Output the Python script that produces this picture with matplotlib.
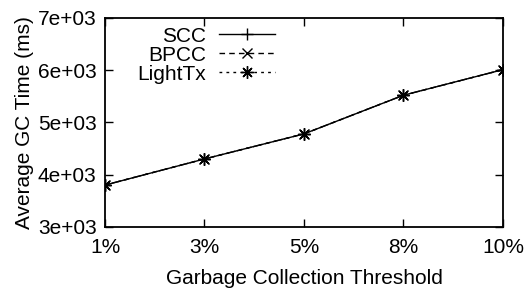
import numpy as np
import matplotlib.pyplot as plt

plt.rcParams['font.family'] = ['Liberation Sans', 'DejaVu Sans']

# donnees
thresholds = ["1%", "3%", "5%", "8%", "10%"]
scc = [3800, 4300, 4780, 5520, 6010]
bpcc = [3800, 4300, 4780, 5520, 6010]
lighttx = [3800, 4300, 4780, 5520, 6010]

x = np.arange(len(thresholds))

fig, ax = plt.subplots(figsize=(5.25, 2.89), dpi=100)
fig.subplots_adjust(left=0.2, right=0.958, top=0.938, bottom=0.215)

ax.plot(x, scc, color="black", lw=1, ls="-", marker="+", ms=9, mew=1, label="SCC")
ax.plot(x, bpcc, color="black", lw=1, ls=(0, (4, 3)), marker="x", ms=7, mew=1, label="BPCC")
ax.plot(x, lighttx, color="black", lw=1, ls=(0, (2, 3)), marker=(8, 2, 0), ms=9, mew=1, label="LightTx")

ax.set_xlim(0, len(thresholds) - 1)
ax.set_ylim(3000, 7000)
ax.set_xticks(x)
ax.set_xticklabels(thresholds)
ax.set_yticks([3000, 4000, 5000, 6000, 7000])
ax.set_yticklabels(["3e+03", "4e+03", "5e+03", "6e+03", "7e+03"])
ax.tick_params(direction="in", top=True, right=True, length=6, width=1, labelsize=15)
ax.tick_params(axis="x", pad=8)
ax.tick_params(axis="y", pad=6)
for s in ax.spines.values():
    s.set_linewidth(1.3)

ax.set_xlabel("Garbage Collection Threshold", fontsize=15, labelpad=8.5)
ax.set_ylabel("Average GC Time (ms)", fontsize=15, labelpad=3)

ax.legend(loc="upper right", markerfirst=False, frameon=False, fontsize=15,
          handlelength=2.7, handletextpad=0.6, labelspacing=0.0,
          borderpad=0, borderaxespad=0, bbox_to_anchor=(0.427, 0.958))

fig.savefig("out.png", dpi=100)
